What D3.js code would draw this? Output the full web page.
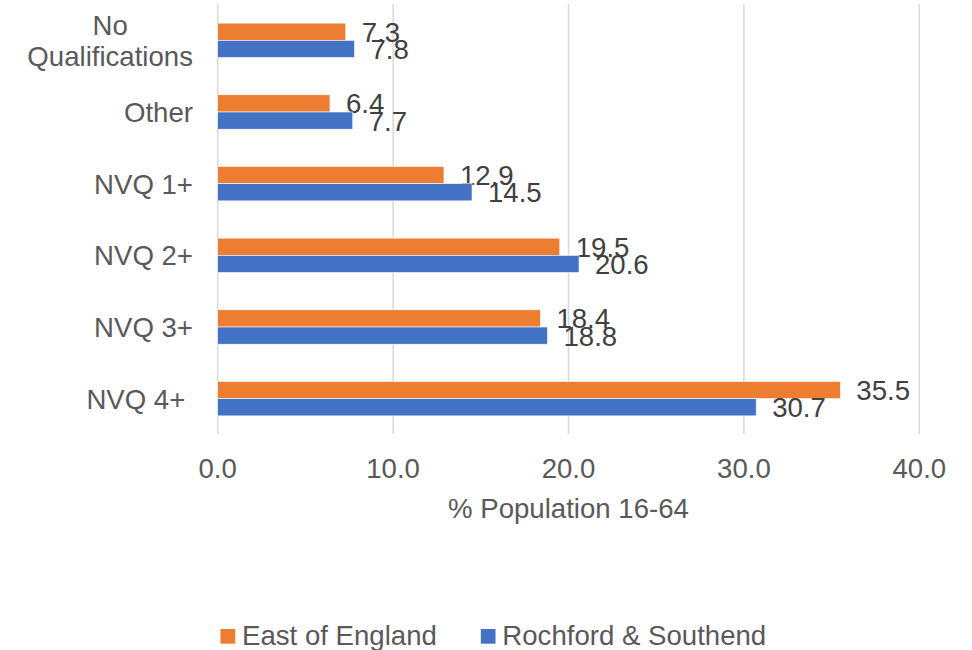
<!DOCTYPE html>
<html>
<head>
<meta charset="utf-8">
<script src="https://cdn.jsdelivr.net/npm/d3@7"></script>
<style>
  html, body { margin: 0; padding: 0; background: #ffffff; }
  svg text { font-family: "Liberation Sans", Arial, sans-serif; }
</style>
</head>
<body>
<svg id="chart" width="972" height="650"></svg>
<script>
// Qualification levels, top to bottom
const categories = ["No\nQualifications", "Other", "NVQ 1+", "NVQ 2+", "NVQ 3+", "NVQ 4+ "];
const seriesNames = ["East of England", "Rochford & Southend"];
const eastOfEngland = [7.3, 6.4, 12.9, 19.5, 18.4, 35.5];
const rochfordSouthend = [7.8, 7.7, 14.5, 20.6, 18.8, 30.7];
const xTicks = [0, 10, 20, 30, 40];
const axisTitle = "% Population 16-64";

const colors = ["#ED7D31", "#4472C4"];
const seriesValues = [eastOfEngland, rochfordSouthend];
const fontSize = 27.6;

const svg = d3.select("#chart");

const x = d3.scaleLinear().domain([0, 40]).range([217.7, 919.3]);
const y = d3.scaleBand().domain(categories).range([4.5, 434.5])
  .paddingInner(0.52).paddingOuter(0.26);
const ySub = d3.scaleBand().domain(seriesNames).range([0, y.bandwidth()]);

// Vertical gridlines
svg.append("g").selectAll("line").data(xTicks).join("line")
  .attr("x1", d => x(d)).attr("x2", d => x(d))
  .attr("y1", 4).attr("y2", 434)
  .attr("stroke", "#d9d9d9").attr("stroke-width", 1.5);

// Bars and value labels
seriesNames.forEach((name, si) => {
  const g = svg.append("g");
  const rows = categories.map((c, i) => ({ c, v: seriesValues[si][i] }));
  g.selectAll("rect").data(rows).join("rect")
    .attr("x", x(0))
    .attr("y", d => y(d.c) + ySub(name))
    .attr("width", d => x(d.v) - x(0))
    .attr("height", ySub.bandwidth())
    .attr("fill", colors[si])
    .attr("stroke", "#ffffff").attr("stroke-width", 0.6);
  g.selectAll("text").data(rows).join("text")
    .attr("x", d => x(d.v) + 16)
    .attr("y", d => y(d.c) + ySub(name) + ySub.bandwidth() / 2)
    .attr("dy", "0.36em")
    .attr("font-size", fontSize)
    .attr("fill", "#404040")
    .text(d => d3.format(".1f")(d.v));
});

// Category labels (multi-line labels are centred on their widest line)
const catG = svg.append("g");
categories.forEach(c => {
  const lines = c.split("\n");
  const lh = 30.5;
  const cy = y(c) + y.bandwidth() / 2;
  const t = catG.append("text")
    .attr("font-size", fontSize).attr("fill", "#595959")
    .style("white-space", "pre");
  const spans = lines.map((ln, i) => t.append("tspan")
    .attr("y", cy + (i - (lines.length - 1) / 2) * lh)
    .attr("dy", "0.36em")
    .text(ln));
  const widths = spans.map(s => s.node().getComputedTextLength());
  const maxW = d3.max(widths);
  const right = 193;
  spans.forEach((s, i) => s.attr("x", right - maxW / 2 - widths[i] / 2));
});

// X tick labels
svg.append("g").selectAll("text").data(xTicks).join("text")
  .attr("x", d => x(d)).attr("y", 478)
  .attr("text-anchor", "middle")
  .attr("font-size", fontSize).attr("fill", "#595959")
  .text(d => d3.format(".1f")(d));

// Axis title
svg.append("text")
  .attr("x", (x(0) + x(40)) / 2).attr("y", 518)
  .attr("text-anchor", "middle")
  .attr("font-size", fontSize).attr("fill", "#595959")
  .text(axisTitle);

// Legend
const legend = svg.append("g");
let lx = 220.5;
seriesNames.forEach((name, i) => {
  legend.append("rect")
    .attr("x", lx).attr("y", 629)
    .attr("width", 14.7).attr("height", 14.7)
    .attr("fill", colors[i]);
  const t = legend.append("text")
    .attr("x", lx + 21.5).attr("y", 645)
    .attr("font-size", fontSize).attr("fill", "#595959")
    .text(name);
  lx += 21.5 + t.node().getComputedTextLength() + 44;
});
</script>
</body>
</html>
